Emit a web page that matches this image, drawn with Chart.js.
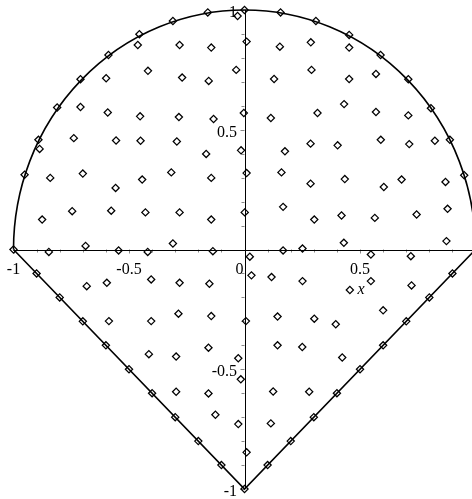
<!DOCTYPE html>
<html>
<head>
<meta charset="utf-8">
<script src="https://cdn.jsdelivr.net/npm/chart.js@4"></script>
<style>
  html, body { margin: 0; padding: 0; background: #fff; overflow: hidden; }
  canvas { display: block; }
</style>
</head>
<body>
<canvas id="plot" width="472" height="499"></canvas>
<script>
// corners of the straight part of the outline
const outlineCorners = [[-1, 0], [0, -1], [1, 0]];

// diamonds sitting on the upper half circle
const arcPoints = [
  [0.985, 0.158], [0.951, 0.310], [0.889, 0.458], [0.807, 0.590], [0.709, 0.711],
  [0.589, 0.812], [0.453, 0.896], [0.309, 0.954], [0.156, 0.990], [0, 1],
  [-0.159, 0.990], [-0.310, 0.954], [-0.455, 0.899], [-0.589, 0.812], [-0.710, 0.711],
  [-0.811, 0.593], [-0.892, 0.458], [-0.952, 0.312], [-1, 0]
];

// diamonds sitting on the two straight edges
const edgePoints = [
  [-0.9, -0.1], [-0.8, -0.2], [-0.7, -0.3], [-0.6, -0.4], [-0.5, -0.5],
  [-0.4, -0.6], [-0.3, -0.7], [-0.2, -0.8], [-0.1, -0.9], [0, -1],
  [0.1, -0.9], [0.2, -0.8], [0.3, -0.7], [0.4, -0.6], [0.5, -0.5],
  [0.6, -0.4], [0.7, -0.3], [0.8, -0.2], [0.9, -0.1]
];

// diamonds inside the region
const innerPoints = [
  [-0.030, 0.975], [-0.462, 0.854], [-0.281, 0.854], [-0.144, 0.843], [-0.418, 0.746],
  [-0.270, 0.718], [-0.155, 0.704], [-0.036, 0.750], [-0.599, 0.715], [-0.710, 0.595],
  [-0.592, 0.572], [-0.452, 0.556], [-0.284, 0.553], [-0.134, 0.545], [-0.739, 0.465],
  [-0.556, 0.455], [-0.450, 0.454], [-0.293, 0.451], [-0.166, 0.399], [-0.015, 0.414],
  [-0.887, 0.420], [-0.841, 0.299], [-0.700, 0.317], [-0.558, 0.257], [-0.443, 0.292],
  [-0.317, 0.322], [-0.144, 0.299], [-0.876, 0.125], [-0.746, 0.160], [-0.577, 0.162],
  [-0.429, 0.155], [-0.281, 0.155], [-0.144, 0.125],
  [-0.847, -0.010], [-0.688, 0.015], [-0.545, -0.004], [-0.419, -0.010], [-0.310, 0.025],
  [-0.137, -0.007], [0.023, -0.030], [0.167, -0.004], [0.251, 0.004], [0.430, 0.028],
  [0.547, -0.021], [0.720, -0.028], [0.874, 0.035],
  [0.009, 0.868], [0.153, 0.847], [0.287, 0.865], [0.453, 0.843], [0.128, 0.712],
  [0.290, 0.750], [0.453, 0.712], [0.569, 0.733], [-0.003, 0.570], [0.114, 0.549],
  [0.316, 0.570], [0.431, 0.607], [0.569, 0.574], [0.709, 0.560], [0.175, 0.410],
  [0.286, 0.442], [0.403, 0.435], [0.590, 0.458], [0.713, 0.440], [0.824, 0.454],
  [0.009, 0.319], [0.160, 0.322], [0.286, 0.275], [0.434, 0.294], [0.603, 0.261],
  [0.680, 0.292], [0.870, 0.282], [0.001, 0.155], [0.167, 0.178], [0.302, 0.125],
  [0.420, 0.142], [0.564, 0.132], [0.745, 0.146], [0.879, 0.170],
  [-0.683, -0.153], [-0.596, -0.139], [-0.404, -0.125], [-0.281, -0.139], [-0.152, -0.143],
  [-0.587, -0.299], [-0.404, -0.299], [-0.286, -0.268], [-0.144, -0.278], [-0.414, -0.437],
  [-0.296, -0.447], [-0.156, -0.410], [-0.027, -0.454], [-0.016, -0.542], [-0.296, -0.594],
  [-0.156, -0.601], [-0.126, -0.690], [-0.027, -0.729],
  [0.030, -0.108], [0.117, -0.115], [0.251, -0.132], [0.547, -0.132], [0.456, -0.169],
  [0.723, -0.150], [0.006, -0.299], [0.143, -0.280], [0.302, -0.289], [0.395, -0.312],
  [0.600, -0.254], [0.143, -0.400], [0.250, -0.407], [0.423, -0.451], [0.124, -0.593],
  [0.280, -0.594], [0.114, -0.726], [0.009, -0.847]
];

// axis tick labels
const xTickValues = [-1, -0.5, 0.5];
const xTickLabels = ['-1', '-0.5', '0.5'];
const yTickValues = [1, 0.5, -0.5, -1];
const yTickLabels = ['1', '0.5', '-0.5', '-1'];

const toXY = p => ({ x: p[0], y: p[1] });

// Maple style axes through the origin, plus the half circle of the outline
const mapleAxes = {
  id: 'mapleAxes',
  beforeDatasetsDraw(chart) {
    const ctx = chart.ctx;
    const xs = chart.scales.x, ys = chart.scales.y;
    const ox = xs.getPixelForValue(0), oy = ys.getPixelForValue(0);
    ctx.save();

    // minor ticks every 0.1
    ctx.strokeStyle = '#888';
    ctx.lineWidth = 1;
    ctx.beginPath();
    for (let i = -10; i <= 10; i++) {
      const v = i / 10;
      const len = (i % 5 === 0) ? 4 : 3;
      if (i !== 0 && xs.getPixelForValue(v) < chart.width) {
        const px = Math.round(xs.getPixelForValue(v)) + 0.5;
        ctx.moveTo(px, oy);
        ctx.lineTo(px, oy + len);
      }
      if (i !== 0) {
        const py = Math.round(ys.getPixelForValue(v)) + 0.5;
        ctx.moveTo(ox, py);
        ctx.lineTo(ox - len, py);
      }
    }
    ctx.stroke();

    // axis lines
    ctx.strokeStyle = '#000';
    ctx.lineWidth = 1;
    ctx.beginPath();
    ctx.moveTo(xs.getPixelForValue(-1), Math.round(oy) + 0.5);
    ctx.lineTo(chart.width, Math.round(oy) + 0.5);
    ctx.moveTo(Math.round(ox) + 0.5, ys.getPixelForValue(1));
    ctx.lineTo(Math.round(ox) + 0.5, ys.getPixelForValue(-1));
    ctx.stroke();

    // tick labels
    ctx.fillStyle = '#000';
    ctx.font = '16px "Liberation Serif", "DejaVu Serif", serif';
    ctx.textBaseline = 'alphabetic';
    ctx.textAlign = 'center';
    xTickValues.forEach((v, i) => {
      ctx.fillText(xTickLabels[i], xs.getPixelForValue(v), oy + 24);
    });
    ctx.textAlign = 'right';
    ctx.fillText('0', ox - 1, oy + 24);
    yTickValues.forEach((v, i) => {
      ctx.fillText(yTickLabels[i], ox - 7.5, ys.getPixelForValue(v) + 7);
    });

    // axis name
    ctx.font = 'italic 16px "Liberation Serif", "DejaVu Serif", serif';
    ctx.textAlign = 'center';
    ctx.fillText('x', xs.getPixelForValue(0.5) + 1, oy + 44);

    // upper half circle of radius 1
    const rx = xs.getPixelForValue(1) - ox;
    const ry = oy - ys.getPixelForValue(1);
    ctx.strokeStyle = '#000';
    ctx.lineWidth = 1.6;
    ctx.beginPath();
    ctx.ellipse(ox, oy, rx, ry, 0, Math.PI, 2 * Math.PI);
    ctx.stroke();
    ctx.restore();
  }
};

const diamond = {
  showLine: false,
  pointStyle: 'rectRot',
  pointRadius: 3.6,
  pointBorderWidth: 1.25,
  pointBorderColor: '#000',
  pointBackgroundColor: 'rgba(0,0,0,0)',
  clip: false
};

new Chart(document.getElementById('plot'), {
  type: 'scatter',
  data: {
    datasets: [
      {
        data: outlineCorners.map(toXY),
        showLine: true,
        borderColor: '#000',
        borderWidth: 1.6,
        pointRadius: 0,
        clip: false
      },
      Object.assign({ data: arcPoints.map(toXY) }, diamond),
      Object.assign({ data: edgePoints.map(toXY) }, diamond),
      Object.assign({ data: innerPoints.map(toXY) }, diamond)
    ]
  },
  options: {
    responsive: false,
    animation: false,
    devicePixelRatio: 1,
    layout: { padding: { left: 13.5, right: 0, top: 10, bottom: 10 } },
    plugins: { legend: { display: false }, tooltip: { enabled: false } },
    scales: {
      // the picture is cut at the right, just short of x = 1
      x: { type: 'linear', min: -1, max: 0.962, display: false },
      y: { type: 'linear', min: -1, max: 1, display: false }
    }
  },
  plugins: [mapleAxes]
});
</script>
</body>
</html>
